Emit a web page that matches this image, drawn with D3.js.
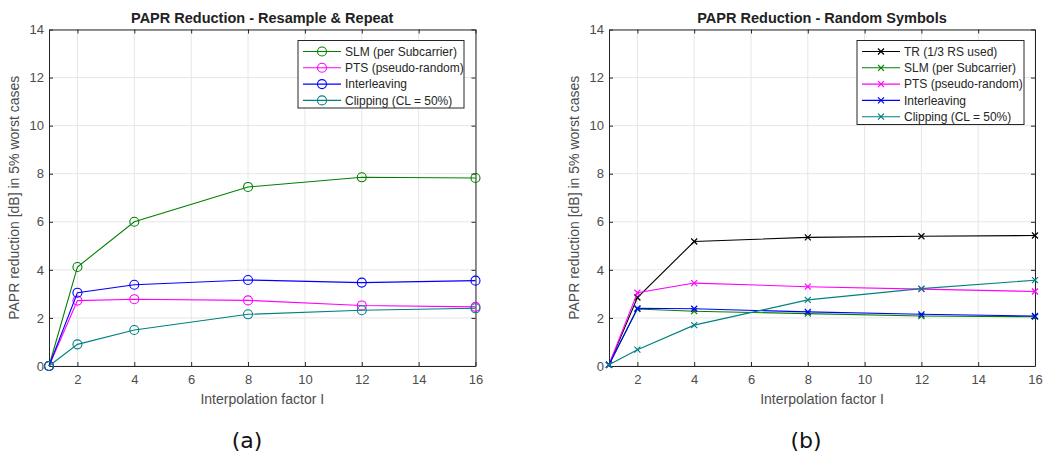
<!DOCTYPE html>
<html><head><meta charset="utf-8">
<script src="https://cdn.jsdelivr.net/npm/d3@7"></script>
<style>
body{margin:0;background:#fff;}
svg{display:block;}
text{font-family:"Liberation Sans",Arial,sans-serif;}
</style></head>
<body>
<svg id="chart" width="1044" height="459"></svg>
<script>
// ---- data ----
const xFactors = [1, 2, 4, 8, 12, 16];
const xTicks = [2, 4, 6, 8, 10, 12, 14, 16];
const yTicks = [0, 2, 4, 6, 8, 10, 12, 14];

// Panel (a): Resample & Repeat
const aNames = ["SLM (per Subcarrier)", "PTS (pseudo-random)", "Interleaving", "Clipping (CL = 50%)"];
const aSLM   = [0, 4.12, 6.00, 7.45, 7.85, 7.82];
const aPTS   = [0, 2.72, 2.78, 2.73, 2.52, 2.46];
const aInt   = [0, 3.05, 3.38, 3.58, 3.47, 3.55];
const aClip  = [0, 0.90, 1.50, 2.15, 2.32, 2.40];

// Panel (b): Random Symbols
const bNames = ["TR (1/3 RS used)", "SLM (per Subcarrier)", "PTS (pseudo-random)", "Interleaving", "Clipping (CL = 50%)"];
const bTR    = [0.05, 2.85, 5.18, 5.35, 5.40, 5.43];
const bSLM   = [0.05, 2.37, 2.28, 2.18, 2.08, 2.05];
const bPTS   = [0.05, 3.05, 3.45, 3.30, 3.20, 3.10];
const bInt   = [0.05, 2.40, 2.38, 2.25, 2.15, 2.08];
const bClip  = [0.05, 0.68, 1.70, 2.75, 3.22, 3.57];

const colors = {TR:"#000000", SLM:"#008000", PTS:"#ff00ff", Int:"#0000ff", Clip:"#008080"};

const svg = d3.select("#chart");
const axisColor = "#262626";
const tickText = "#4d4d4d";
const FONT = "'Liberation Sans', Arial, Helvetica, sans-serif";

function panel(opts){
  const {left, right, top, bottom, title, series, names, marker, legendBox, caption, captionX} = opts;
  const x = d3.scaleLinear().domain([1,16]).range([left,right]);
  const y = d3.scaleLinear().domain([0,14]).range([bottom,top]);
  const g = svg.append("g");

  // grid
  g.selectAll(".gx").data(xTicks).enter().append("line")
    .attr("x1",d=>x(d)).attr("x2",d=>x(d)).attr("y1",top).attr("y2",bottom)
    .attr("stroke","#e6e6e6").attr("stroke-width",1);
  g.selectAll(".gy").data(yTicks).enter().append("line")
    .attr("x1",left).attr("x2",right).attr("y1",d=>y(d)).attr("y2",d=>y(d))
    .attr("stroke","#e6e6e6").attr("stroke-width",1);

  // axes (inward ticks, box)
  const xb = d3.axisBottom(x).tickValues(xTicks).tickSizeInner(-4).tickSizeOuter(0).tickPadding(9);
  const xt = d3.axisTop(x).tickValues(xTicks).tickSizeInner(-4).tickSizeOuter(0).tickFormat("");
  const yl = d3.axisLeft(y).tickValues(yTicks).tickSizeInner(-4).tickSizeOuter(0).tickPadding(5);
  const yr = d3.axisRight(y).tickValues(yTicks).tickSizeInner(-4).tickSizeOuter(0).tickFormat("");
  const styleAxis = a => {
    a.attr("font-family", FONT);
    a.selectAll("path").attr("stroke",axisColor);
    a.selectAll("line").attr("stroke",axisColor);
    a.selectAll("text").attr("fill",tickText).style("font-size","13px").style("font-family",FONT);
  };
  styleAxis(g.append("g").attr("transform",`translate(0,${bottom})`).call(xb));
  styleAxis(g.append("g").attr("transform",`translate(0,${top})`).call(xt));
  styleAxis(g.append("g").attr("transform",`translate(${left},0)`).call(yl));
  styleAxis(g.append("g").attr("transform",`translate(${right},0)`).call(yr));

  // lines & markers
  const line = d3.line().x((d,i)=>x(xFactors[i])).y(d=>y(d));
  series.forEach(s=>{
    g.append("path").datum(s.values).attr("d",line)
      .attr("fill","none").attr("stroke",s.color).attr("stroke-width",1.1);
    drawMarkers(g, s.values.map((v,i)=>[x(xFactors[i]), y(v)]), s.color, marker);
  });

  // legend
  const lb = legendBox;
  g.append("rect").attr("x",lb.x).attr("y",lb.y).attr("width",lb.w).attr("height",lb.h)
    .attr("fill","#fff").attr("stroke",axisColor).attr("stroke-width",1);
  series.forEach((s,i)=>{
    const yy = lb.y + 11 + i*16.3;
    g.append("line").attr("x1",lb.x+5).attr("x2",lb.x+43).attr("y1",yy).attr("y2",yy)
      .attr("stroke",s.color).attr("stroke-width",1.1);
    drawMarkers(g, [[lb.x+24, yy]], s.color, marker);
    g.append("text").attr("x",lb.x+47).attr("y",yy).attr("dy","0.35em")
      .attr("fill","#262626").style("font-size","12px").style("font-family",FONT).text(names[i]);
  });

  // title
  g.append("text").attr("x",(left+right)/2).attr("y",top-7)
    .attr("text-anchor","middle").attr("fill","#222").style("font-size","14.5px").style("font-family",FONT).style("font-weight","bold").text(title);
  // x label
  g.append("text").attr("x",(left+right)/2).attr("y",bottom+38)
    .attr("text-anchor","middle").attr("fill",tickText).style("font-size","14px").style("font-family",FONT).text("Interpolation factor I");
  // y label
  g.append("text").attr("transform",`translate(${left-30},${(top+bottom)/2}) rotate(-90)`)
    .attr("text-anchor","middle").attr("fill",tickText).style("font-size","14px").style("font-family",FONT).text("PAPR reduction [dB] in 5% worst cases");
  // caption
  g.append("text").attr("x",captionX).attr("y",bottom+82)
    .attr("text-anchor","middle").attr("fill","#111").style("font-size","22px").style("font-family","'DejaVu Sans', sans-serif").text(caption);
}

function drawMarkers(g, pts, color, marker){
  pts.forEach(([px,py])=>{
    if(marker==="circle"){
      g.append("circle").attr("cx",px).attr("cy",py).attr("r",4.5)
        .attr("fill","none").attr("stroke",color).attr("stroke-width",1.1);
    } else {
      const r = 3;
      g.append("path").attr("d",`M${px-r},${py-r}L${px+r},${py+r}M${px-r},${py+r}L${px+r},${py-r}`)
        .attr("stroke",color).attr("stroke-width",1.2).attr("fill","none");
    }
  });
}

panel({
  left:49, right:475.5, top:29.5, bottom:366,
  title:"PAPR Reduction - Resample & Repeat",
  series:[
    {values:aSLM, color:colors.SLM},
    {values:aPTS, color:colors.PTS},
    {values:aInt, color:colors.Int},
    {values:aClip, color:colors.Clip}
  ],
  names:aNames, marker:"circle",
  legendBox:{x:298, y:40.5, w:166, h:67.5},
  caption:"(a)", captionX:247
});

panel({
  left:609, right:1035, top:29.5, bottom:366,
  title:"PAPR Reduction - Random Symbols",
  series:[
    {values:bTR, color:colors.TR},
    {values:bSLM, color:colors.SLM},
    {values:bPTS, color:colors.PTS},
    {values:bInt, color:colors.Int},
    {values:bClip, color:colors.Clip}
  ],
  names:bNames, marker:"x",
  legendBox:{x:857, y:40.5, w:167, h:84},
  caption:"(b)", captionX:806
});
</script>
</body></html>
